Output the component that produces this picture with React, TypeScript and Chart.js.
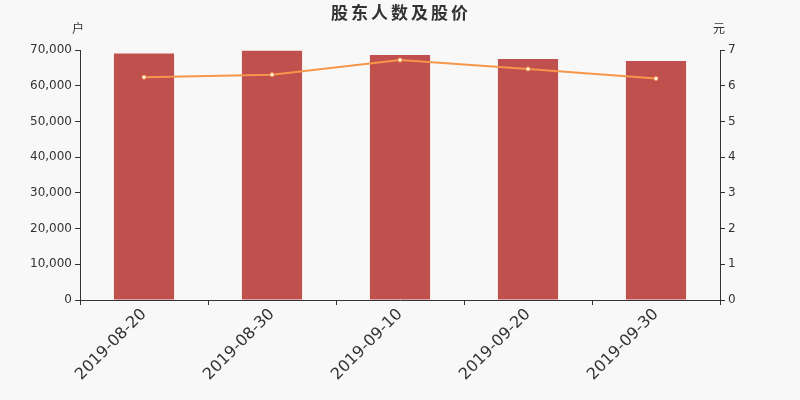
import { useEffect, useRef } from "react";
import { Chart, registerables, Plugin } from "chart.js";

Chart.register(...registerables);

/* ---------------- Data ---------------- */

const dates = ["2019-08-20", "2019-08-30", "2019-09-10", "2019-09-20", "2019-09-30"];
const holders = [69000, 69800, 68600, 67450, 66900];
const prices = [6.24, 6.31, 6.72, 6.47, 6.2];

const FONT = "'DejaVu Sans', sans-serif";

/* ---------------- Plugins ---------------- */

const decor: Plugin = {
  id: "decor",
  beforeDraw: (chart) => {
    const { ctx, width, height } = chart;
    ctx.save();
    ctx.fillStyle = "#f8f8f8";
    ctx.fillRect(0, 0, width, height);
    ctx.restore();
  },
  afterDraw: (chart) => {
    const { ctx, chartArea } = chart;
    ctx.save();
    ctx.fillStyle = "#333";
    ctx.textBaseline = "middle";
    ctx.textAlign = "center";
    ctx.font = "bold 17px 'Noto Sans CJK SC', sans-serif";
    // letter spacing like the reference title
    (ctx as any).letterSpacing = "3px";
    ctx.fillText("股东人数及股价", 401, 13);
    (ctx as any).letterSpacing = "0px";
    ctx.font = "12px 'Noto Sans CJK SC', sans-serif";
    ctx.fillText("户", chartArea.left - 2, 28);
    ctx.fillText("元", chartArea.right - 1, 28);
    ctx.restore();
  },
};

/* ---------------- Component ---------------- */

const App = () => {
  const canvasRef = useRef<HTMLCanvasElement | null>(null);

  useEffect(() => {
    if (!canvasRef.current) return;
    document.body.style.margin = "0";

    const chart = new Chart(canvasRef.current, {
      type: "bar",
      data: {
        labels: dates,
        datasets: [
          {
            type: "line",
            label: "股价",
            data: prices,
            yAxisID: "y1",
            borderColor: "#f5964a",
            borderWidth: 2,
            pointRadius: 2,
            pointBackgroundColor: "#ffffff",
            pointBorderColor: "#f5964a",
            pointBorderWidth: 1,
            tension: 0,
            order: 0,
          },
          {
            type: "bar",
            label: "股东人数",
            data: holders,
            yAxisID: "y",
            backgroundColor: "#c0504d",
            categoryPercentage: 1,
            barPercentage: 0.47,
            order: 1,
          },
        ],
      },
      options: {
        animation: false,
        responsive: false,
        layout: { padding: { top: 50, left: 0, right: 0, bottom: 0 } },
        plugins: {
          legend: { display: false },
          tooltip: { enabled: false },
        },
        scales: {
          x: {
            offset: true,
            border: { color: "#333", width: 1 },
            grid: { drawOnChartArea: false, drawTicks: true, tickLength: 5, color: "#333", offset: true },
            ticks: {
              color: "#333",
              font: { family: FONT, size: 16 },
              minRotation: 45,
              maxRotation: 45,
              padding: 0,
            },
            afterFit: (s) => {
              s.height = 100;
            },
          },
          y: {
            position: "left",
            min: 0,
            max: 70000,
            border: { color: "#333", width: 1 },
            grid: { drawOnChartArea: false, drawTicks: true, tickLength: 5, color: "#333" },
            ticks: {
              stepSize: 10000,
              color: "#333",
              font: { family: FONT, size: 12 },
              padding: 3,
              callback: (v) => Number(v).toLocaleString("en-US"),
            },
            afterFit: (s) => {
              s.width = 80;
            },
          },
          y1: {
            position: "right",
            min: 0,
            max: 7,
            border: { color: "#333", width: 1 },
            grid: { drawOnChartArea: false, drawTicks: true, tickLength: 5, color: "#333" },
            ticks: {
              stepSize: 1,
              color: "#333",
              font: { family: FONT, size: 12 },
              padding: 3,
            },
            afterFit: (s) => {
              s.width = 80;
            },
          },
        },
      },
      plugins: [decor],
    });

    return () => {
      chart.destroy();
    };
  }, []);

  return (
    <div style={{ width: 800, height: 400 }}>
      <canvas ref={canvasRef} width={800} height={400}></canvas>
    </div>
  );
};

export default App;
